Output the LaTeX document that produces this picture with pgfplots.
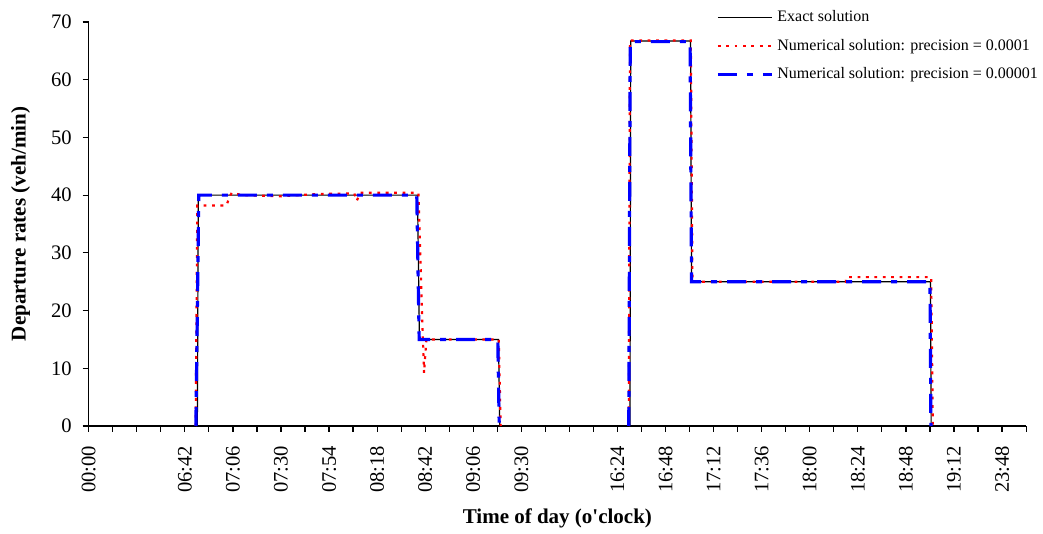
\documentclass[border=0pt]{standalone}
\usepackage{fontspec}
\setmainfont{Liberation Serif}
\usepackage{pgfplots}
\pgfplotsset{compat=1.18}
\begin{document}
\begin{tikzpicture}
\begin{axis}[
  scale only axis,
  width=468.7pt, height=202pt,
  xmin=0, xmax=39, ymin=0, ymax=70,
  axis x line=bottom, axis y line=left,
  axis line style={-, line width=0.6pt, black},
  tick style={line width=0.6pt, black},
  tick align=outside,
  major tick length=3pt,
  xtick={0,...,39},
  xticklabels={00:00,,,,06:42,,07:06,,07:30,,07:54,,08:18,,08:42,,09:06,,09:30,,,,16:24,,16:48,,17:12,,17:36,,18:00,,18:24,,18:48,,19:12,,23:48,},
  xticklabel style={rotate=90, anchor=east, xshift=-3.5pt, font=\fontsize{10.3}{12}\selectfont},
  ytick={0,10,...,70},
  yticklabel style={xshift=-2pt, font=\fontsize{10.3}{12}\selectfont, /pgf/number format/assume math mode=true},
  unbounded coords=jump,
  clip=false,
  legend cell align=left,
  legend style={draw=none, fill=none, inner sep=0pt, at={(0.669,1.039)}, anchor=north west,
    font=\fontsize{8}{9.6}\selectfont, row sep=3.2pt},
  legend image code/.code={\draw[#1] (0pt,0pt) -- (27pt,0pt);},
]
% Exact solution
\addplot[black, line width=0.6pt] coordinates {
(4.52,0) (4.56,40) (13.68,40) (13.76,15) (17.05,15) (17.10,0)
(17.2,nan)
(22.52,0) (22.55,66.7) (25.04,66.7) (25.08,25) (35.02,25) (35.05,0)
};
\addlegendentry{Exact solution}
% Numerical precision 0.0001
\addplot[red, line width=1.1pt, dash pattern=on 1.4pt off 2.8pt] coordinates {
(4.45,0) (4.52,38.2) (5.73,38.2) (5.85,39.6) (5.95,40.4) (6.4,40.0) (8.0,39.8) (9.5,40.2)
(11.05,40.3) (11.15,39.0) (11.3,40.4) (13.72,40.4) (13.85,22) (13.95,9.2) (14.05,15)
(17.06,15) (17.14,0)
(17.2,nan)
(22.47,0) (22.52,66.8) (25.05,66.8) (25.12,25) (31.5,25) (31.52,25.8) (35.05,25.8) (35.12,0)
};
\addlegendentry{Numerical solution: precision = 0.0001}
% Numerical precision 0.00001
\addplot[blue, line width=1.6pt, dash pattern=on 9.5pt off 5pt on 3pt off 5pt] coordinates {
(4.46,0) (4.58,40) (13.65,40) (13.75,15) (17.02,15) (17.08,0)
(17.2,nan)
(22.47,0) (22.53,66.6) (25.02,66.6) (25.08,25) (35.0,25) (35.04,0)
};
\addlegendentry{Numerical solution: precision = 0.00001}
\end{axis}
\node[rotate=90, font=\bfseries\fontsize{10.5}{12}\selectfont] at ([xshift=-34pt]current axis.west) {Departure rates (veh/min)};
\node[font=\bfseries\fontsize{10.5}{12}\selectfont] at ([yshift=-46pt]current axis.south) {Time of day (o\textquotesingle clock)};
\pgfresetboundingbox
\path ([xshift=-44.35pt, yshift=-54pt]current axis.south west) rectangle ++(521.5pt,267pt);
\end{tikzpicture}
\end{document}
